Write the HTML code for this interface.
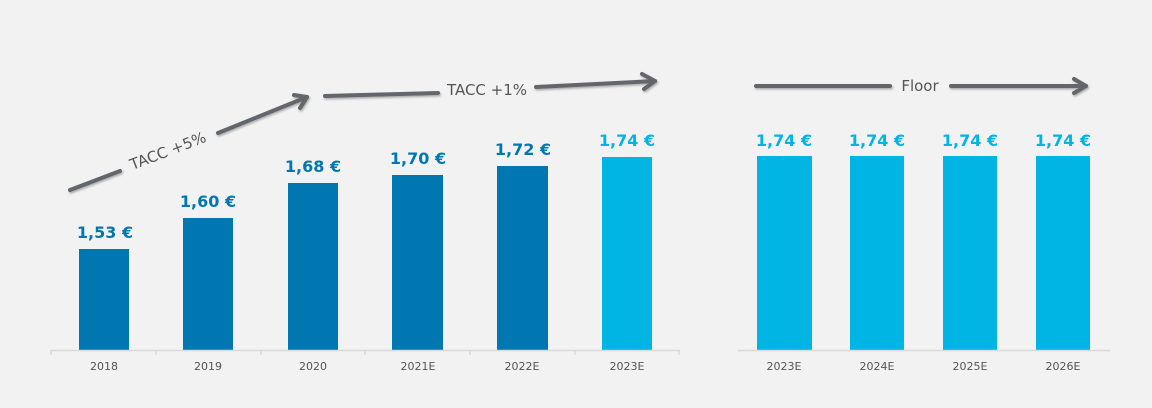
<!DOCTYPE html>
<html><head><meta charset="utf-8"><style>
html,body{margin:0;padding:0;background:#f2f2f2;}
svg{display:block}
</style></head><body>
<svg width="1152" height="408" viewBox="0 0 1152 408" xmlns="http://www.w3.org/2000/svg" font-family="DejaVu Sans, Liberation Sans, sans-serif">
<defs><filter id="sh" x="-10%" y="-50%" width="120%" height="200%"><feDropShadow dx="1" dy="1.5" stdDeviation="1" flood-color="#000" flood-opacity="0.3"/></filter></defs>
<rect width="1152" height="408" fill="#f2f2f2"/>
<g fill="#0077b0">
<rect x="79" y="249" width="50" height="101"/>
<rect x="183" y="218" width="50" height="132"/>
<rect x="288" y="183" width="50" height="167"/>
<rect x="392" y="175" width="51" height="175"/>
<rect x="497" y="166" width="51" height="184"/>
</g>
<g fill="#00b5e4">
<rect x="602" y="157" width="50" height="193"/>
<rect x="757" y="156" width="55" height="194"/>
<rect x="850" y="156" width="54" height="194"/>
<rect x="943" y="156" width="54" height="194"/>
<rect x="1036" y="156" width="54" height="194"/>
</g>
<g stroke="#d9d9d9" stroke-width="1.5" fill="none">
<line x1="51" y1="350.5" x2="680" y2="350.5"/>
<line x1="738" y1="350.5" x2="1110" y2="350.5"/>
<path d="M51 350v5M156 350v5M261 350v5M365 350v5M470 350v5M575 350v5M679 350v5"/>
</g>
<g font-size="16" font-weight="bold" text-anchor="middle" fill="#0077b0">
<text x="105" y="238">1,53 €</text>
<text x="208" y="207">1,60 €</text>
<text x="313" y="172">1,68 €</text>
<text x="418" y="164">1,70 €</text>
<text x="523" y="155">1,72 €</text>
</g>
<g font-size="16" font-weight="bold" text-anchor="middle" fill="#00b5e4">
<text x="627" y="146">1,74 €</text>
<text x="784" y="146">1,74 €</text>
<text x="877" y="146">1,74 €</text>
<text x="970" y="146">1,74 €</text>
<text x="1063" y="146">1,74 €</text>
</g>
<g font-size="11" text-anchor="middle" fill="#555">
<text x="104" y="370">2018</text>
<text x="208" y="370">2019</text>
<text x="313" y="370">2020</text>
<text x="418" y="370">2021E</text>
<text x="522" y="370">2022E</text>
<text x="627" y="370">2023E</text>
<text x="784" y="370">2023E</text>
<text x="877" y="370">2024E</text>
<text x="970" y="370">2025E</text>
<text x="1063" y="370">2026E</text>
</g>
<g stroke="#63666a" stroke-width="4" fill="none" stroke-linecap="round" stroke-linejoin="round" filter="url(#sh)">
<line x1="70" y1="190" x2="120" y2="171"/>
<line x1="218" y1="133" x2="307" y2="97"/>
<path d="M294 95 L307 97 L300 108"/>
<line x1="325" y1="96" x2="438" y2="93"/>
<line x1="536" y1="87" x2="655" y2="81"/>
<path d="M642 74 L655 81 L644 89"/>
<line x1="756" y1="86" x2="890" y2="86"/>
<line x1="951" y1="86" x2="1086" y2="86"/>
<path d="M1074 79 L1086 86 L1074 93"/>
</g>
<g font-size="15" fill="#555">
<text x="168" y="156" text-anchor="middle" transform="rotate(-21 168 151)">TACC +5%</text>
<text x="487" y="95" text-anchor="middle">TACC +1%</text>
<text x="920" y="91" text-anchor="middle">Floor</text>
</g>
</svg>
</body></html>
